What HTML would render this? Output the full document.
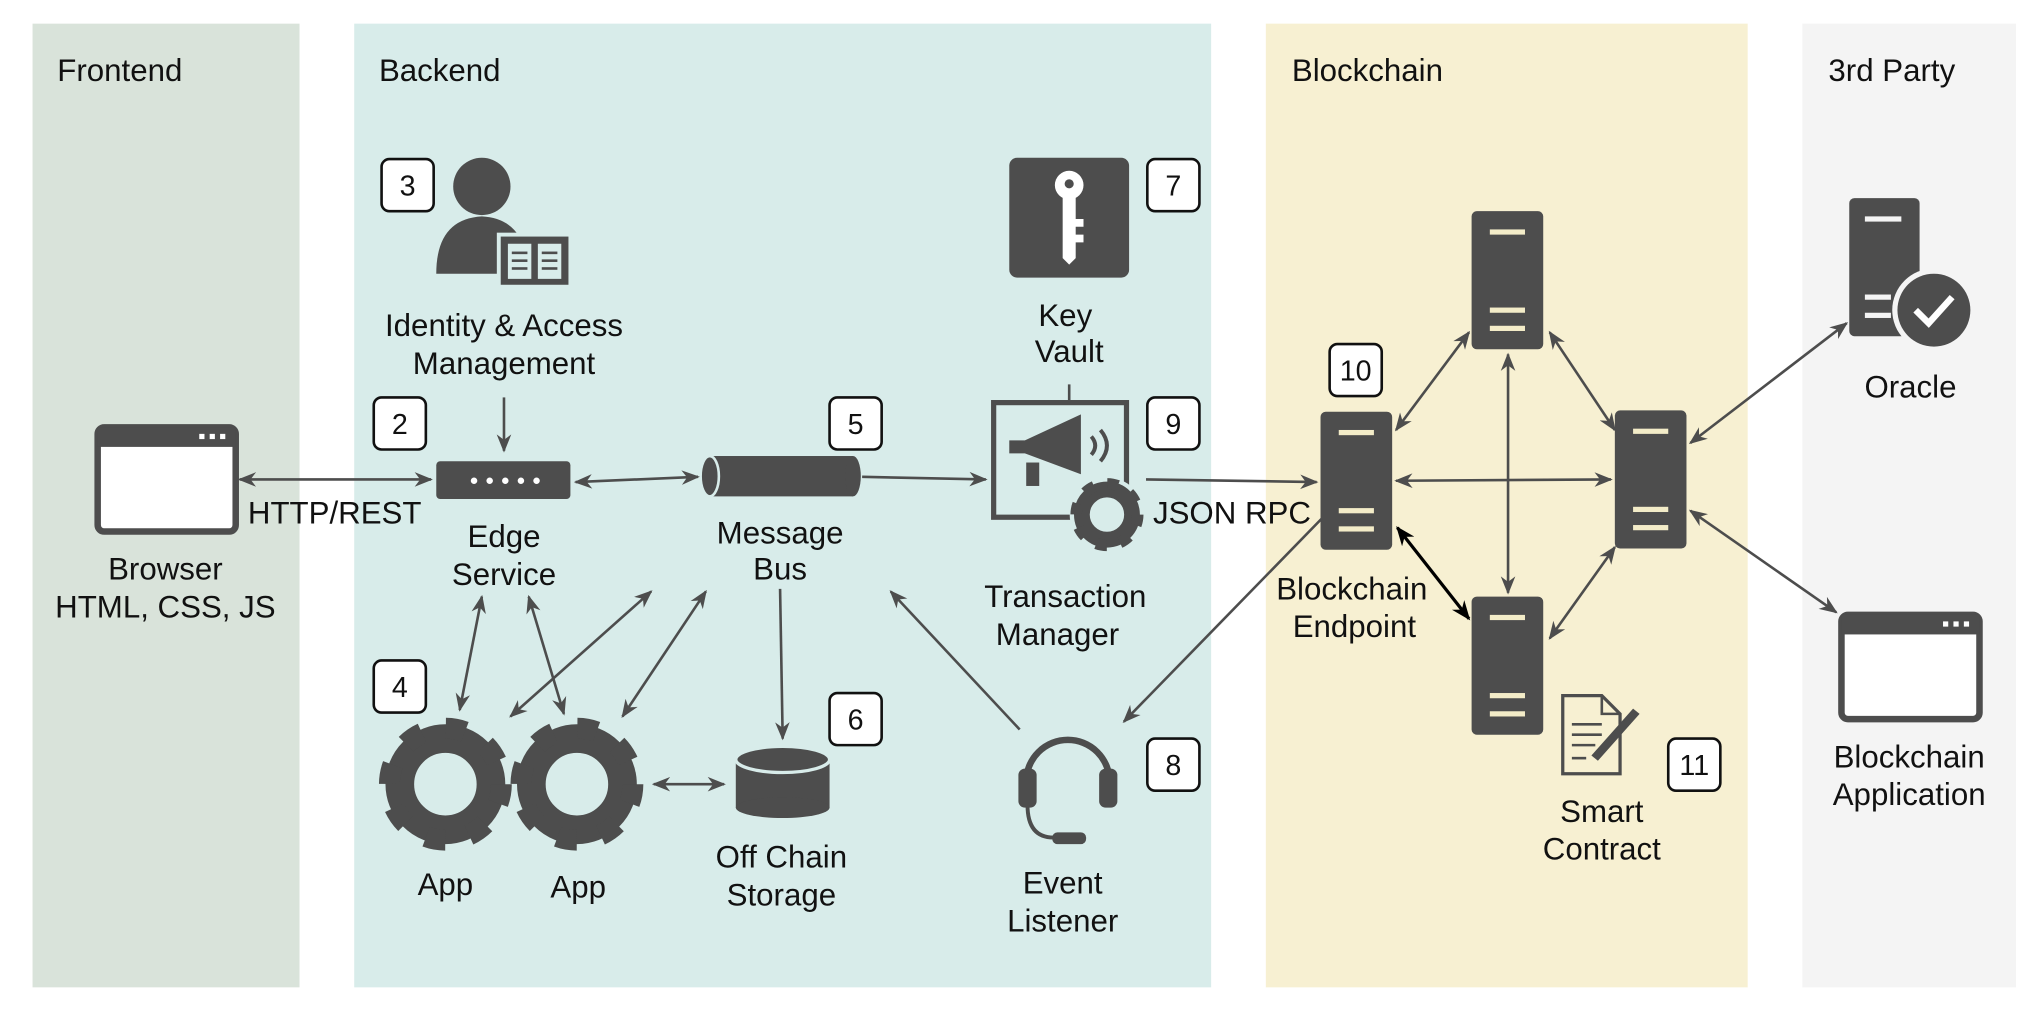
<!DOCTYPE html>
<html><head><meta charset="utf-8"><style>
html,body{margin:0;padding:0;background:#fff}
svg{display:block}
text{font-family:"Liberation Sans",Arial,sans-serif;fill:#111}
</style></head><body>
<svg width="2042" height="1011" viewBox="0 0 1568 776" xmlns="http://www.w3.org/2000/svg">
<defs>
<marker id="a" viewBox="0 0 10 10" refX="9" refY="5" markerWidth="7" markerHeight="7" orient="auto-start-reverse"><path d="M0,1 L10,5 L0,9 L3,5 z" fill="#4d4d4d"/></marker>
<marker id="b" viewBox="0 0 10 10" refX="9" refY="5" markerWidth="6" markerHeight="6" orient="auto-start-reverse"><path d="M0,1 L10,5 L0,9 L3,5 z" fill="#000"/></marker>
<g id="srv"><rect x="0" y="0" width="55" height="106" rx="4" fill="#4d4d4d"/><rect x="14" y="14" width="27" height="4" fill="#f3ecc8"/><rect x="14" y="74" width="27" height="4" fill="#f3ecc8"/><rect x="14" y="88" width="27" height="4" fill="#f3ecc8"/></g>
<g id="gear"><circle r="35" fill="none" stroke="#4d4d4d" stroke-width="22"/><circle r="43" fill="none" stroke="#4d4d4d" stroke-width="16" stroke-dasharray="15 18.8"/></g>
<g id="br"><rect x="0" y="0" width="106" height="80" rx="5" fill="#fff" stroke="#4d4d4d" stroke-width="5"/><rect x="0" y="0" width="106" height="15" fill="#4d4d4d"/><rect x="78" y="5" width="4" height="4" fill="#fff"/><rect x="86" y="5" width="4" height="4" fill="#fff"/><rect x="94" y="5" width="4" height="4" fill="#fff"/></g>
</defs>
<rect x="25" y="18" width="205" height="740" fill="#d9e3da"/>
<rect x="272" y="18" width="658" height="740" fill="#d8ecea"/>
<rect x="972" y="18" width="370" height="740" fill="#f7f0d2"/>
<rect x="1384" y="18" width="164" height="740" fill="#f4f4f4"/>
<g font-size="24">
<text x="44" y="62">Frontend</text><text x="291" y="62">Backend</text><text x="992" y="62">Blockchain</text><text x="1404" y="62">3rd Party</text>
</g>
<g font-size="22" text-anchor="middle">
<g fill="#fff" stroke="#111" stroke-width="2">
<rect x="293" y="122" width="40" height="40" rx="6"/><rect x="287" y="305" width="40" height="40" rx="6"/><rect x="637" y="305" width="40" height="40" rx="6"/>
<rect x="881" y="122" width="40" height="40" rx="6"/><rect x="881" y="305" width="40" height="40" rx="6"/><rect x="287" y="507" width="40" height="40" rx="6"/>
<rect x="637" y="532" width="40" height="40" rx="6"/><rect x="881" y="567" width="40" height="40" rx="6"/><rect x="1021" y="264" width="40" height="40" rx="6"/><rect x="1281" y="567" width="40" height="40" rx="6"/>
</g>
<text x="313" y="150">3</text><text x="307" y="333">2</text><text x="657" y="333">5</text><text x="901" y="150">7</text><text x="901" y="333">9</text><text x="307" y="535">4</text><text x="657" y="560">6</text><text x="901" y="595">8</text><text x="1041" y="292">10</text><text x="1301" y="595">11</text>
</g>
<use href="#br" x="75" y="328"/>
<use href="#br" x="1414" y="472"/>
<circle cx="370" cy="143" r="22" fill="#4d4d4d"/>
<path d="M335,210 Q335,168 370,166 Q405,168 405,210 z" fill="#4d4d4d"/>
<rect x="383" y="180" width="55" height="40" fill="#4d4d4d" stroke="#d8ecea" stroke-width="3"/>
<path d="M390,187 h18 v27 h-18 z M413,187 h18 v27 h-18 z" fill="#d8ecea"/>
<g stroke="#4d4d4d" stroke-width="2"><line x1="393" y1="194" x2="405" y2="194"/><line x1="393" y1="200" x2="405" y2="200"/><line x1="393" y1="206" x2="405" y2="206"/><line x1="416" y1="194" x2="428" y2="194"/><line x1="416" y1="200" x2="428" y2="200"/><line x1="416" y1="206" x2="428" y2="206"/></g>
<rect x="335" y="354" width="103" height="29" rx="3" fill="#4d4d4d"/>
<g fill="#fff"><circle cx="364" cy="369" r="2.5"/><circle cx="376" cy="369" r="2.5"/><circle cx="388" cy="369" r="2.5"/><circle cx="400" cy="369" r="2.5"/><circle cx="412" cy="369" r="2.5"/></g>
<rect x="545" y="350" width="110" height="31" fill="#4d4d4d"/><ellipse cx="655" cy="365.5" rx="6" ry="15.5" fill="#4d4d4d"/><ellipse cx="545" cy="365.5" rx="7" ry="15.5" fill="#4d4d4d" stroke="#d8ecea" stroke-width="2"/>
<rect x="775" y="121" width="92" height="92" rx="6" fill="#4d4d4d"/>
<circle cx="821" cy="142" r="11" fill="#fff"/><path d="M816,150 h10 v48 l-5,5 l-5,-5 z M826,168 h6 v6 h-6 z M826,180 h6 v6 h-6 z" fill="#fff"/><circle cx="821" cy="141" r="3.5" fill="#4d4d4d"/>
<line x1="821" y1="295" x2="821" y2="307" stroke="#4d4d4d" stroke-width="2"/>
<rect x="763" y="309" width="102" height="88" fill="none" stroke="#4d4d4d" stroke-width="4"/>
<path d="M775,338 h12 l43,-20 v46 l-43,-16 h-12 z" fill="#4d4d4d"/><rect x="788" y="355" width="10" height="18" fill="#4d4d4d"/>
<path d="M838,335 q6,7 0,14 M845,330 q10,12 0,24" fill="none" stroke="#4d4d4d" stroke-width="3"/>
<g transform="translate(850,395) scale(0.55)"><circle r="52" fill="#d8ecea"/><use href="#gear"/></g>
<rect x="565" y="585" width="72" height="35" fill="#4d4d4d"/><ellipse cx="601" cy="620" rx="36" ry="8" fill="#4d4d4d"/><ellipse cx="601" cy="583" rx="36" ry="10" fill="#4d4d4d" stroke="#d8ecea" stroke-width="2.5"/>
<use href="#gear" transform="translate(342,602)"/><use href="#gear" transform="translate(443,602)"/>
<path d="M788,600 a32,32 0 0 1 64,0" fill="none" stroke="#4d4d4d" stroke-width="5"/>
<rect x="782" y="590" width="14" height="30" rx="5" fill="#4d4d4d"/><rect x="844" y="590" width="14" height="30" rx="5" fill="#4d4d4d"/>
<path d="M789,618 q0,25 20,25" fill="none" stroke="#4d4d4d" stroke-width="3"/><rect x="808" y="639" width="26" height="9" rx="4" fill="#4d4d4d"/>
<use href="#srv" x="1014" y="316"/><use href="#srv" x="1130" y="162"/><use href="#srv" x="1240" y="315"/><use href="#srv" x="1130" y="458"/>
<rect x="1420" y="152" width="54" height="106" rx="4" fill="#4d4d4d"/><rect x="1432" y="166" width="28" height="4" fill="#f4f4f4"/><rect x="1432" y="226" width="20" height="4" fill="#f4f4f4"/><rect x="1432" y="240" width="20" height="4" fill="#f4f4f4"/>
<circle cx="1485" cy="238" r="32" fill="#f4f4f4"/><circle cx="1485" cy="238" r="28" fill="#4d4d4d"/><path d="M1471,238 l10,10 l18,-20" fill="none" stroke="#fff" stroke-width="5"/>
<path d="M1200,534 h30 l14,14 v46 h-44 z" fill="none" stroke="#4d4d4d" stroke-width="2.5"/><path d="M1230,534 v14 h14" fill="none" stroke="#4d4d4d" stroke-width="2"/>
<g stroke="#4d4d4d" stroke-width="2"><line x1="1207" y1="556" x2="1230" y2="556"/><line x1="1207" y1="564" x2="1230" y2="564"/><line x1="1207" y1="572" x2="1225" y2="572"/><line x1="1207" y1="582" x2="1218" y2="582"/></g>
<path d="M1222,580 l32,-36 l5,4 l-32,36 z" fill="#4d4d4d"/>
<g stroke="#4d4d4d" stroke-width="2" fill="none" marker-end="url(#a)">
<line x1="184" y1="368" x2="331" y2="368" marker-start="url(#a)"/>
<line x1="387" y1="305" x2="387" y2="346"/>
<line x1="442" y1="370" x2="536" y2="366" marker-start="url(#a)"/>
<line x1="662" y1="366" x2="757" y2="368"/>
<line x1="880" y1="368" x2="1011" y2="370"/>
<line x1="370" y1="458" x2="353" y2="545" marker-start="url(#a)"/>
<line x1="406" y1="458" x2="433" y2="548" marker-start="url(#a)"/>
<line x1="500" y1="454" x2="392" y2="550" marker-start="url(#a)"/>
<line x1="542" y1="454" x2="478" y2="550" marker-start="url(#a)"/>
<line x1="502" y1="602" x2="556" y2="602" marker-start="url(#a)"/>
<line x1="599" y1="452" x2="601" y2="567"/>
<line x1="783" y1="560" x2="684" y2="454"/>
<line x1="1015" y1="398" x2="863" y2="554"/>
<line x1="1072" y1="330" x2="1128" y2="255" marker-start="url(#a)"/>
<line x1="1190" y1="255" x2="1240" y2="330" marker-start="url(#a)"/>
<line x1="1072" y1="369" x2="1237" y2="368" marker-start="url(#a)"/>
<line x1="1158" y1="272" x2="1158" y2="455" marker-start="url(#a)"/>
<line x1="1190" y1="490" x2="1240" y2="420" marker-start="url(#a)"/>
<line x1="1298" y1="340" x2="1418" y2="248" marker-start="url(#a)"/>
<line x1="1298" y1="392" x2="1410" y2="470" marker-start="url(#a)"/>
</g>
<line x1="1073" y1="405" x2="1128" y2="475" stroke="#000" stroke-width="2.5" marker-start="url(#b)" marker-end="url(#b)"/>
<g font-size="24" text-anchor="middle">
<text x="127" y="445">Browser</text><text x="127" y="474">HTML, CSS, JS</text>
<text x="387" y="258">Identity &amp; Access</text><text x="387" y="287">Management</text>
<text x="257" y="402">HTTP/REST</text>
<text x="387" y="420">Edge</text><text x="387" y="449">Service</text>
<text x="599" y="417">Message</text><text x="599" y="445">Bus</text>
<text x="818" y="250">Key</text><text x="821" y="278">Vault</text>
<text x="818" y="466">Transaction</text><text x="812" y="495">Manager</text>
<text x="946" y="402">JSON RPC</text>
<text x="1038" y="460">Blockchain</text><text x="1040" y="489">Endpoint</text>
<text x="1230" y="631">Smart</text><text x="1230" y="660">Contract</text>
<text x="1467" y="305">Oracle</text>
<text x="1466" y="589">Blockchain</text><text x="1466" y="618">Application</text>
<text x="342" y="687">App</text><text x="444" y="689">App</text>
<text x="600" y="666">Off Chain</text><text x="600" y="695">Storage</text>
<text x="816" y="686">Event</text><text x="816" y="715">Listener</text>
</g>
</svg>
</body></html>
